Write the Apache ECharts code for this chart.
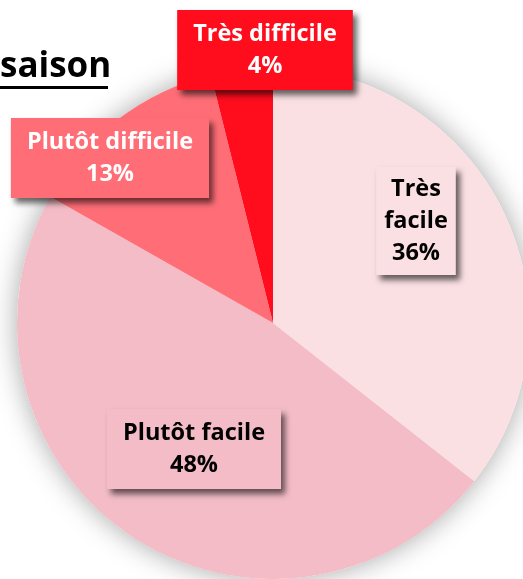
<!DOCTYPE html>
<html>
<head>
<meta charset="utf-8">
<script src="https://cdn.jsdelivr.net/npm/echarts@6/dist/echarts.min.js"></script>
<style>
  html, body { margin: 0; padding: 0; background: #fff; }
  #pieChart { width: 523px; height: 579px; }
</style>
</head>
<body>
<div id="pieChart"></div>
<script>
// données
const categories = ['Très facile', 'Plutôt facile', 'Plutôt difficile', 'Très difficile'];
const shares = [35.6, 47.6, 12.9, 3.9];
const sliceColors = ['#FBE0E3', '#F3BCC6', '#FF6E77', '#FF0D1D'];
const textColors = ['#000', '#000', '#fff', '#fff'];

// emplacement des étiquettes (centre de la boîte)
const labelSpots = [[416, 221], [194, 449], [110, 158], [265, 50]];

const chart = echarts.init(document.getElementById('pieChart'));

const option = {
  backgroundColor: '#fff',
  animation: false,
  title: {
    text: 'saison',
    left: 0,
    top: 50,
    padding: 0,
    textStyle: {
      fontFamily: 'Open Sans',
      fontSize: 35,
      fontWeight: 'bold',
      color: '#000'
    }
  },
  graphic: [
    {
      type: 'rect',
      shape: { x: 0, y: 86, width: 108, height: 3 },
      style: { fill: '#000' }
    }
  ],
  series: [
    {
      // ombre portée du disque
      type: 'pie',
      silent: true,
      center: [273, 323],
      radius: 256,
      label: { show: false },
      itemStyle: {
        color: '#fff',
        shadowBlur: 28,
        shadowColor: 'rgba(0,0,0,0.35)'
      },
      data: [1]
    },
    {
      type: 'pie',
      center: [273, 323],
      radius: 256,
      startAngle: 90,
      clockwise: true,
      labelLine: { show: false },
      label: {
        show: true,
        position: 'inside',
        fontFamily: 'Open Sans',
        fontSize: 23.5,
        fontWeight: 'bold',
        lineHeight: 32,
        padding: [8, 16],
        align: 'center',
        shadowColor: 'rgba(0,0,0,0.6)',
        shadowBlur: 6,
        shadowOffsetX: 4,
        shadowOffsetY: 5,
        formatter: (p) => {
          const name = p.dataIndex === 0 ? p.name.replace(' ', '\n') : p.name;
          return name + '\n' + Math.round(p.value) + '%';
        }
      },
      labelLayout: (p) => ({
        x: labelSpots[p.dataIndex][0],
        y: labelSpots[p.dataIndex][1],
        align: 'center',
        verticalAlign: 'middle'
      }),
      data: categories.map((name, i) => ({
        name: name,
        value: shares[i],
        itemStyle: { color: sliceColors[i] },
        label: {
          color: textColors[i],
          backgroundColor: sliceColors[i],
          padding: i === 0 ? [6, 8] : [8, 16]
        }
      }))
    }
  ]
};

chart.setOption(option);
</script>
</body>
</html>
